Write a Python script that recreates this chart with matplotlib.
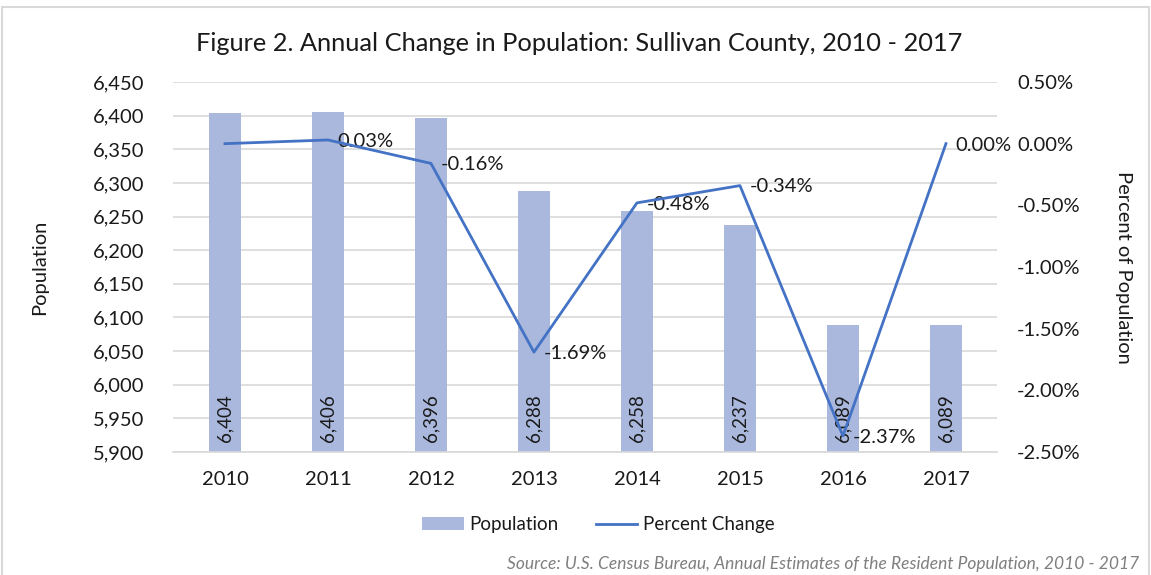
import matplotlib.pyplot as plt
from matplotlib.patches import Rectangle
from matplotlib.ticker import FuncFormatter, MultipleLocator

plt.rcParams['font.family'] = ['Lato', 'DejaVu Sans']

# data
years = ['2010', '2011', '2012', '2013', '2014', '2015', '2016', '2017']
population = [6404, 6406, 6396, 6288, 6258, 6237, 6089, 6089]
pct_change = [0.00, 0.03, -0.16, -1.69, -0.48, -0.34, -2.37, 0.00]
pct_labels = ['', '0.03%', '-0.16%', '-1.69%', '-0.48%', '-0.34%', '-2.37%', '0.00%']

bar_color = '#A9B8DC'
line_color = '#4472C4'
text_color = '#1a1a1a'

fig = plt.figure(figsize=(11.51, 5.75), dpi=100)
ax = fig.add_axes([0.1507, 0.2139, 0.7159, 0.6435])
ax2 = ax.twinx()

x = list(range(len(years)))
bars = ax.bar(x, population, width=0.31, color=bar_color, zorder=2, label='Population')
ax.set_ylim(5900, 6450)
ax.set_xlim(-0.5, len(years) - 0.5)
ax.yaxis.set_major_locator(MultipleLocator(50))
ax.yaxis.set_major_formatter(FuncFormatter(lambda v, p: f'{int(v):,}'))
ax.grid(axis='y', color='#D9D9D9', linewidth=1.2, zorder=0)
ax.set_axisbelow(True)
ax.set_xticks(x)
ax.set_xticklabels(years)
for s in ['top', 'left', 'right']:
    ax.spines[s].set_visible(False)
ax.spines['bottom'].set_color('#D9D9D9')
ax.spines['bottom'].set_linewidth(1.2)
ax.tick_params(axis='y', length=0, labelsize=14.5, colors=text_color, pad=21)
ax.tick_params(axis='x', length=0, labelsize=14.5, colors=text_color, pad=14)
ax.set_ylabel('Population', fontsize=14.5, color=text_color)
ax.yaxis.set_label_coords(-0.152, 0.5)

for xi, v in zip(x, population):
    ax.text(xi, 5915, f'{v:,}', rotation=90, ha='center', va='bottom',
            fontsize=13.5, color=text_color, zorder=3)

ax2.plot(x, pct_change, color=line_color, linewidth=2, zorder=4, label='Percent Change')
ax2.set_ylim(-2.5, 0.5)
ax2.yaxis.set_major_locator(MultipleLocator(0.5))
ax2.yaxis.set_major_formatter(FuncFormatter(lambda v, p: f'{v:.2f}%'))
for s in ['top', 'left', 'right', 'bottom']:
    ax2.spines[s].set_visible(False)
ax2.tick_params(axis='y', length=0, labelsize=14.5, colors=text_color, pad=14)
ax2.set_ylabel('Percent of Population', fontsize=14.5, color=text_color, rotation=270,
               va='center')
ax2.yaxis.set_label_coords(1.153, 0.5)

for xi, v, lab in zip(x, pct_change, pct_labels):
    if lab:
        ax2.annotate(lab, (xi, v), xytext=(7, -1), textcoords='offset points',
                     ha='left', va='center', fontsize=14.5, color=text_color)

fig.suptitle('Figure 2. Annual Change in Population: Sullivan County, 2010 - 2017',
             x=0.503, y=0.945, fontsize=18.3, color=text_color)

h1, l1 = ax.get_legend_handles_labels()
h2, l2 = ax2.get_legend_handles_labels()
fig.legend(h1 + h2, l1 + l2, loc='center', bbox_to_anchor=(0.52, 0.087), ncol=2,
           frameon=False, fontsize=13.5, handlelength=2.2, handleheight=0.7,
           columnspacing=2.0, handletextpad=0.3, labelcolor=text_color)

fig.text(0.99, 0.02, 'Source: U.S. Census Bureau, Annual Estimates of the Resident Population, 2010 - 2017',
         ha='right', va='center', fontsize=12.5, style='italic', color='#7F7F7F')

fig.patches.append(Rectangle((0.002, -0.01), 0.996, 0.998, transform=fig.transFigure,
                             fill=False, edgecolor='#D9D9D9', linewidth=1.5))

fig.savefig('out.png', dpi=100)
